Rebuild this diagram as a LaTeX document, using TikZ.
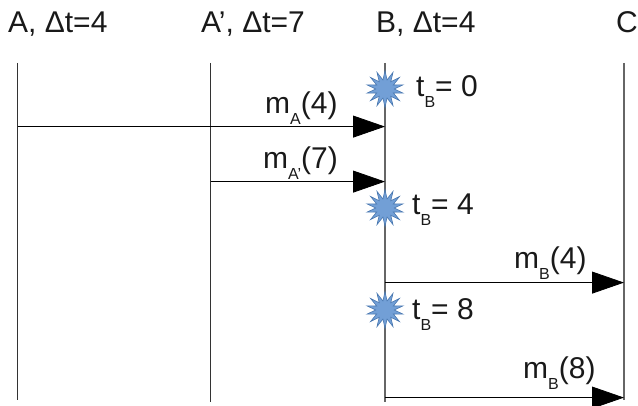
\documentclass[tikz,border=0pt]{standalone}
\usepackage{fontspec}
\setmainfont{Liberation Sans}
\usepackage{tikz}
\usetikzlibrary{arrows.meta,shapes.geometric}
\newcommand{\lowsub}[1]{\raisebox{-.36em}{\fontsize{16}{16}\selectfont #1}}
\tikzset{
  lbl/.style={font=\fontsize{30}{32}\selectfont, inner sep=0pt, text=black!90},
  msg/.style={thick, -{Triangle[length=32pt,width=22pt]}},
  burst/.style={star, star points=14, star point ratio=2, minimum size=37pt, inner sep=0pt, draw={rgb,255:red,74;green,120;blue,176}, fill={rgb,255:red,114;green,159;blue,214}, line width=.6pt}
}
\begin{document}
\begin{tikzpicture}[x=1pt, y=-1pt]
\useasboundingbox (0,0) rectangle (638,406);
\coordinate (atop) at (17.6,63);
\coordinate (abot) at (17.6,400);
\coordinate (ptop) at (210.6,63);
\coordinate (pbot) at (210.6,402);
\coordinate (btop) at (385,63);
\coordinate (bbot) at (385,402);
\coordinate (ctop) at (624,63);
\coordinate (cbot) at (624,400);
\draw[black!80, thick] (atop) -- (abot);
\draw[black!80, thick] (ptop) -- (pbot);
\draw[black!60, line width=1.2pt] (btop) -- (bbot);
\draw[black!60, line width=1.2pt] (ctop) -- (cbot);
% process names
\node[lbl, anchor=base west] (na) at (8,33) {A, Δt=4};
\node[lbl, anchor=base west] (np) at (201,33) {A’, Δt=7};
\node[lbl, anchor=base west] (nb) at (376,33) {B, Δt=4};
\node[lbl, anchor=base west] (nc) at (616,33) {C};
% events on B
\node[burst] (s0) at (385,89) {};
\node[burst] (s1) at (385,208) {};
\node[burst] (s2) at (385,310) {};
\node[lbl, anchor=base west] (t0) at (416,97) {t\lowsub{B}= 0};
\node[lbl, anchor=base west] (t1) at (412,215) {t\lowsub{B}= 4};
\node[lbl, anchor=base west] (t2) at (412,320) {t\lowsub{B}= 8};
% messages
\coordinate (ma) at (17.6,126.6);
\coordinate (mae) at (385,126.6);
\coordinate (mp) at (210.6,181.6);
\coordinate (mpe) at (385,181.6);
\coordinate (m4) at (385,282.6);
\coordinate (m4e) at (624,282.6);
\coordinate (m8) at (385,397.6);
\coordinate (m8e) at (624,397.6);
\draw[msg] (ma) -- (mae);
\draw[msg] (mp) -- (mpe);
\draw[msg] (m4) -- (m4e);
\draw[msg] (m8) -- (m8e);
\node[lbl, anchor=base west] (la) at (265,114) {m\lowsub{A}(4)};
\node[lbl, anchor=base west] (lp) at (263,169) {m\lowsub{A’}(7)};
\node[lbl, anchor=base west] (l4) at (514,269) {m\lowsub{B}(4)};
\node[lbl, anchor=base west] (l8) at (523,379) {m\lowsub{B}(8)};
\end{tikzpicture}
\end{document}
